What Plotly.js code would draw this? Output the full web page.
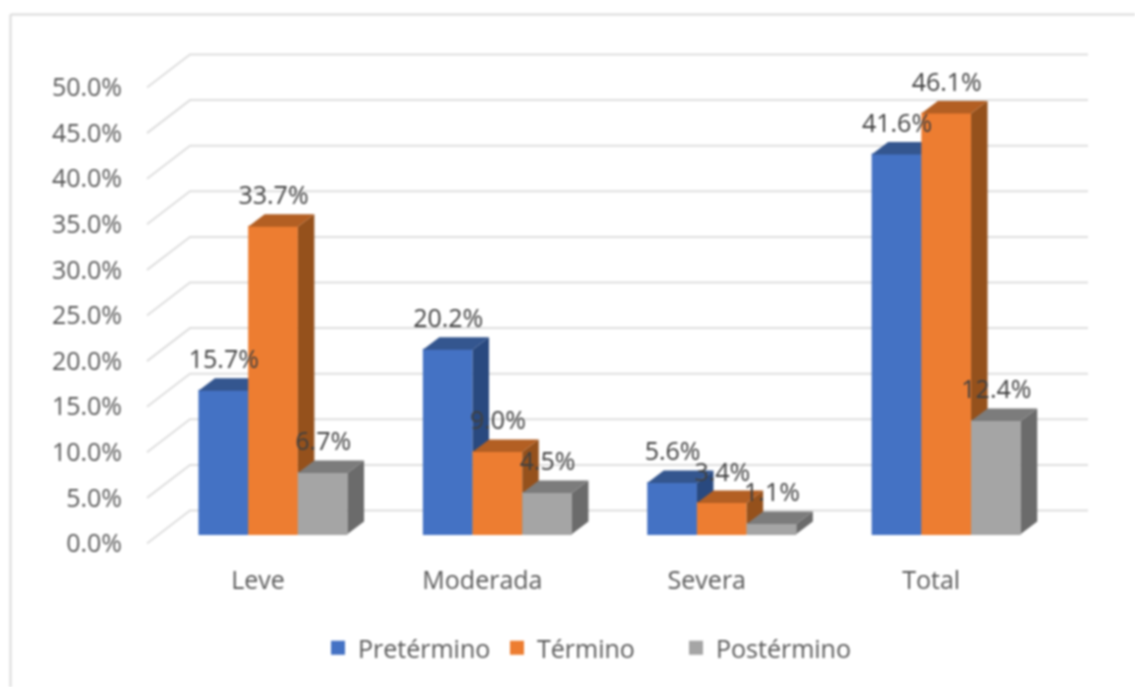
<!DOCTYPE html>
<html>
<head>
<meta charset="utf-8">
<script src="https://cdn.plot.ly/plotly-3.0.1.min.js"></script>
<style>
html,body{margin:0;padding:0;background:#fff;overflow:hidden}
#chart{width:1135px;height:687px;filter:blur(0.8px)}
</style>
</head>
<body>
<div id="chart"></div>
<script>
// ---- data ----
const categories = ["Leve", "Moderada", "Severa", "Total"];
const pretermino = [15.7, 20.2, 5.6, 41.6];
const termino    = [33.7, 9.0, 3.4, 46.1];
const postermino = [6.7, 4.5, 1.1, 12.4];
const yTicks     = [0, 5, 10, 15, 20, 25, 30, 35, 40, 45, 50];

// ---- drawing constants (pixels of the 1135x687 canvas) ----
const W = 1135, H = 687;
const plotL = 123, plotR = 1105, plotT = 30, plotB = 563;
const pxPerCat = 224.4, firstCatPx = 273;
const pxPerPct = 9.12;
const floorBarPx = 534, floorAxisPx = 543.5;
const barPx = 49.7, depthPxX = 16.5, depthPxY = 12.5, barEdgePx = 2;
const wallPxX = 43, wallPxY = 33, wallStartPx = 147, gridRightPx = 1088, labelShiftPx = -15;
const labelLiftPct = 3.15;
const fontFamily = "Open Sans, sans-serif";

const toCat = px => (px - firstCatPx) / pxPerCat;
const barW = barPx / pxPerCat, dX = depthPxX / pxPerCat, dY = depthPxY / pxPerPct;
const edge = barEdgePx / pxPerCat;
const xRange = [toCat(plotL), toCat(plotR)];
const barRange  = [(floorBarPx - plotB) / pxPerPct, (floorBarPx - plotT) / pxPerPct];
const axisRange = [(floorAxisPx - plotB) / pxPerPct, (floorAxisPx - plotT) / pxPerPct];
const catIdx = categories.map((_, i) => i);

const seriesList = [
  {name: "Pretérmino", values: pretermino, front: "#4472C4", top: "#34568F", side: "#29497F"},
  {name: "Término",    values: termino,    front: "#ED7D31", top: "#B35F23", side: "#95511C"},
  {name: "Postérmino", values: postermino, front: "#A5A5A5", top: "#7C7C7C", side: "#6B6B6B"}
];

const traces = [];

// gridlines: diagonal on the side wall plus the line along the back wall
const gx = [], gy = [];
const wallX = wallPxX / pxPerCat, wallY = wallPxY / pxPerPct;
yTicks.forEach(t => {
  gx.push(toCat(wallStartPx), toCat(wallStartPx) + wallX, toCat(gridRightPx), null);
  gy.push(t, t + wallY, t + wallY, null);
});
traces.push({type: "scatter", mode: "lines", x: gx, y: gy, xaxis: "x", yaxis: "y",
  line: {color: "#DEDEDE", width: 2}, hoverinfo: "skip", showlegend: false});

// each series sits on its own overlaid axes so its front covers the previous side face
seriesList.forEach((s, k) => {
  const suffix = k + 2;
  const xa = "x" + suffix, ya = "y" + suffix;
  const off = (k - 1.5) * barW;
  const sx = [], sy = [], tx = [], ty = [];
  s.values.forEach((v, i) => {
    const l = i + off, r = l + barW;
    sx.push(r, r + dX, r + dX, r, null);
    sy.push(0, dY, v + dY, v, null);
    tx.push(l, l + dX, r + dX, r, null);
    ty.push(v, v + dY, v + dY, v, null);
  });
  traces.push({type: "bar", name: s.name, x: catIdx, y: s.values, xaxis: xa, yaxis: ya,
    width: barW - edge, offset: off + edge / 2,
    marker: {color: s.front, line: {width: barEdgePx, color: s.front}}, hoverinfo: "y"});
  traces.push({type: "scatter", mode: "lines", x: sx, y: sy, xaxis: xa, yaxis: ya, fill: "toself",
    fillcolor: s.side, line: {width: 0}, hoverinfo: "skip", showlegend: false});
  traces.push({type: "scatter", mode: "lines", x: tx, y: ty, xaxis: xa, yaxis: ya, fill: "toself",
    fillcolor: s.top, line: {width: 0}, hoverinfo: "skip", showlegend: false});
});

// data labels, above everything
const lx = [], ly = [], lt = [];
seriesList.forEach((s, k) => s.values.forEach((v, i) => {
  lx.push(i + (k - 1) * barW + 0.5 / pxPerCat);
  ly.push(v + labelLiftPct);
  lt.push(v.toFixed(1) + "%");
}));
traces.push({type: "scatter", mode: "text", x: lx, y: ly, text: lt, textposition: "middle center",
  textfont: {family: fontFamily, size: 25, color: "#404040"},
  xaxis: "x4", yaxis: "y4", hoverinfo: "skip", showlegend: false, cliponaxis: false});

const hiddenX = {overlaying: "x", range: xRange, visible: false, fixedrange: true};
const hiddenY = {overlaying: "y", range: barRange, visible: false, fixedrange: true};
const fontBase = {family: fontFamily, size: 25, color: "#595959"};
const pw = plotR - plotL, ph = plotB - plotT;
const px = v => (v - plotL) / pw, py = v => (plotB - v) / ph;

const layout = {
  width: W, height: H,
  paper_bgcolor: "#fff", plot_bgcolor: "rgba(0,0,0,0)",
  margin: {l: plotL, r: W - plotR, t: plotT, b: H - plotB, pad: 0},
  font: fontBase,
  showlegend: true,
  legend: {orientation: "h", x: px(318), xanchor: "left", y: py(671), yanchor: "bottom",
    entrywidth: 134, entrywidthmode: "pixels",
    font: {family: fontFamily, size: 25, color: "#595959"}, traceorder: "normal", bgcolor: "rgba(0,0,0,0)"},
  xaxis: {range: xRange, tickmode: "array", tickvals: catIdx.map(i => i + labelShiftPx / pxPerCat),
    ticktext: categories, showgrid: false, zeroline: false, showline: false, ticks: "", fixedrange: true,
    tickfont: fontBase},
  yaxis: {range: axisRange, tickmode: "array", tickvals: yTicks, ticktext: yTicks.map(t => t.toFixed(1) + "%"),
    showgrid: false, zeroline: false, showline: false, ticks: "", fixedrange: true, tickfont: fontBase},
  xaxis2: hiddenX, yaxis2: hiddenY,
  xaxis3: hiddenX, yaxis3: hiddenY,
  xaxis4: hiddenX, yaxis4: hiddenY,
  shapes: [
    {type: "line", xref: "paper", yref: "paper", x0: px(10.5), x1: px(10.5), y0: py(14.5), y1: py(687), line: {color: "#DADADA", width: 2}},
    {type: "line", xref: "paper", yref: "paper", x0: px(10.5), x1: px(1135), y0: py(14.5), y1: py(14.5), line: {color: "#DADADA", width: 2}}
  ]
};

Plotly.newPlot("chart", traces, layout, {displayModeBar: false, responsive: false});
</script>
</body>
</html>
